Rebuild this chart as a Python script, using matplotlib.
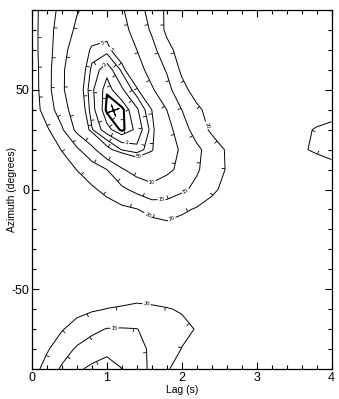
import numpy as np
import matplotlib
matplotlib.use("Agg")
import matplotlib.pyplot as plt
from matplotlib.ticker import MultipleLocator
from matplotlib.collections import LineCollection

# grid of the map
lags = [0.0, 0.2, 0.4, 0.6, 0.8, 1.0, 1.2, 1.4, 1.6, 1.8, 2.0,
        2.2, 2.4, 2.6, 2.8, 3.0, 3.2, 3.4, 3.6, 3.8, 4.0]
azimuths = [-90, -80, -70, -60, -50, -40, -30, -20, -10, 0,
            10, 20, 30, 40, 50, 60, 70, 80, 90]

# energy values, one row per azimuth (from -90 up to 90)
energy = [
    [22.0, 18.2, 14.2, 10.8, 9.0, 8.4, 9.9, 12.8, 16.0, 19.6, 21.6, 22.9, 23.7, 24.5, 24.8, 25.0, 24.9, 24.8, 24.7, 24.6, 24.5],
    [22.0, 20.5, 17.4, 14.3, 12.7, 11.0, 12.5, 13.9, 15.6, 18.0, 20.1, 20.8, 21.5, 21.8, 22.2, 22.5, 22.6, 22.7, 22.8, 22.9, 23.0],
    [22.5, 21.4, 20.3, 18.3, 16.1, 14.8, 14.7, 14.9, 16.2, 17.6, 19.1, 20.2, 20.9, 21.5, 22.0, 22.5, 23.0, 23.1, 23.3, 23.4, 23.5],
    [23.5, 22.8, 22.0, 21.3, 20.6, 19.9, 19.6, 19.3, 19.5, 19.8, 20.3, 20.9, 21.5, 22.2, 22.8, 23.5, 23.6, 23.7, 23.8, 23.9, 24.0],
    [24.5, 24.2, 23.8, 23.5, 23.0, 22.5, 22.1, 21.6, 21.8, 22.2, 22.6, 23.0, 23.4, 23.8, 24.1, 24.5, 24.5, 24.5, 24.5, 24.5, 24.5],
    [25.5, 25.4, 25.2, 25.0, 24.8, 24.6, 24.5, 24.5, 24.6, 24.7, 24.9, 25.0, 25.1, 25.2, 25.2, 25.2, 25.1, 25.0, 24.9, 24.8, 24.7],
    [26.5, 26.2, 25.9, 25.6, 25.3, 25.0, 24.8, 24.6, 24.4, 24.2, 24.3, 24.4, 24.5, 24.6, 24.6, 24.6, 24.5, 24.4, 24.3, 24.2, 24.1],
    [27.0, 26.4, 25.8, 25.2, 24.6, 24.0, 23.5, 23.0, 22.5, 22.0, 22.4, 22.8, 23.1, 23.5, 23.7, 23.8, 24.0, 23.9, 23.8, 23.6, 23.5],
    [27.0, 26.0, 25.0, 24.1, 23.1, 22.1, 21.1, 20.2, 18.4, 17.4, 19.1, 20.5, 21.5, 22.2, 22.6, 23.0, 22.9, 22.8, 22.7, 22.6, 22.5],
    [26.5, 25.1, 23.6, 22.2, 20.7, 18.7, 16.0, 13.6, 11.4, 12.6, 14.1, 16.2, 19.2, 21.1, 22.5, 22.8, 23.0, 22.8, 22.5, 22.3, 22.0],
    [26.0, 24.0, 22.0, 19.9, 17.5, 15.0, 10.5, 7.8, 7.3, 9.0, 11.1, 14.4, 17.5, 20.3, 22.0, 22.5, 23.0, 22.5, 22.0, 21.5, 21.0],
    [25.0, 22.4, 19.8, 15.8, 11.4, 5.6, 3.9, 3.3, 4.8, 7.7, 10.7, 13.9, 17.3, 20.5, 22.5, 22.8, 22.5, 21.5, 20.3, 19.6, 19.0],
    [23.5, 20.7, 15.6, 8.7, 4.1, 2.3, 1.35, 2.2, 4.4, 8.2, 12.6, 17.3, 20.9, 23.0, 23.8, 24.5, 23.5, 22.5, 21.0, 19.6, 19.0],
    [23.0, 17.5, 12.4, 6.9, 3.4, 1.34, 1.3, 2.8, 5.0, 10.0, 15.0, 19.0, 21.8, 23.6, 24.9, 25.3, 25.0, 24.3, 23.5, 22.5, 21.5],
    [22.7, 16.7, 10.7, 6.3, 3.2, 1.55, 2.8, 4.6, 9.4, 13.3, 18.4, 22.1, 24.1, 25.2, 25.8, 26.0, 25.8, 25.6, 25.4, 25.2, 25.0],
    [22.5, 16.8, 10.7, 6.7, 3.7, 2.3, 4.2, 8.0, 11.9, 15.4, 20.9, 23.5, 24.5, 25.5, 25.8, 26.0, 25.8, 25.5, 25.3, 25.0, 24.8],
    [22.0, 17.0, 11.7, 7.3, 4.6, 4.4, 6.7, 10.0, 13.4, 18.4, 22.1, 24.0, 25.0, 25.6, 25.7, 25.8, 25.6, 25.4, 25.2, 24.9, 24.7],
    [22.0, 17.0, 12.5, 9.2, 6.6, 5.8, 8.7, 11.5, 15.7, 21.0, 23.5, 24.4, 25.3, 25.4, 25.5, 25.6, 25.4, 25.2, 25.0, 24.8, 24.6],
    [21.9, 17.4, 13.5, 10.3, 8.6, 7.9, 9.5, 12.8, 17.0, 20.8, 23.0, 24.0, 25.0, 25.2, 25.4, 25.5, 25.4, 25.2, 25.0, 24.8, 24.5],
]

levels = [2, 3, 4, 5, 10, 15, 20]
conf_level = 1.5
best_lag = 1.085
best_az = 40

# where the contour numbers sit
label_spots = [(0.92, 76), (1.03, 70), (0.975, 62.5), (1.27, 24.5), (1.44, 17),
               (1.46, 14), (1.6, 3.5), (1.73, -6), (2.07, -2), (1.55, -12.5),
               (1.86, -14), (2.28, 31.5), (1.53, -57.5), (1.1, -69)]

plt.rcParams['font.family'] = ['Liberation Sans', 'DejaVu Sans']
plt.rcParams['axes.unicode_minus'] = False

fig = plt.figure(figsize=(3.39, 3.99), dpi=100)
ax = fig.add_axes([32 / 339, 30 / 399, 299.5 / 339, 359 / 399])
ax.set_xlim(0, 4)
ax.set_ylim(-90, 90)

X = np.asarray(lags)
Y = np.asarray(azimuths)
Z = np.asarray(energy)

cs = ax.contour(X, Y, Z, levels=levels, colors='k', linewidths=0.7)
cb = ax.contour(X, Y, Z, levels=[conf_level], colors='k', linewidths=1.5)
ax.plot(best_lag, best_az, marker=(4, 2, 20), ms=9, mew=0.7, color='k')

ax.clabel(cs, fmt='%g', fontsize=4, inline=True, inline_spacing=1,
          manual=label_spots)


def zval(x, y):
    x = np.clip(x, X[0], X[-1])
    y = np.clip(y, Y[0], Y[-1])
    i = int(np.clip(np.searchsorted(X, x) - 1, 0, len(X) - 2))
    j = int(np.clip(np.searchsorted(Y, y) - 1, 0, len(Y) - 2))
    tx = (x - X[i]) / (X[i + 1] - X[i])
    ty = (y - Y[j]) / (Y[j + 1] - Y[j])
    return (Z[j, i] * (1 - tx) * (1 - ty) + Z[j, i + 1] * tx * (1 - ty)
            + Z[j + 1, i] * (1 - tx) * ty + Z[j + 1, i + 1] * tx * ty)


def downhill_ticks(cset, step=30, size=3.5):
    """little ticks on the contours pointing to lower values"""
    to_disp = ax.transData
    back = to_disp.inverted()
    segs = []
    for path in cset.get_paths():
        for poly in path.to_polygons(closed_only=False):
            if len(poly) < 2:
                continue
            d = to_disp.transform(poly)
            seglen = np.hypot(*np.diff(d, axis=0).T)
            cum = np.concatenate([[0], np.cumsum(seglen)])
            for s in np.arange(step / 2, cum[-1], step):
                k = int(np.clip(np.searchsorted(cum, s) - 1, 0, len(seglen) - 1))
                if seglen[k] == 0:
                    continue
                f = (s - cum[k]) / seglen[k]
                p = d[k] + f * (d[k + 1] - d[k])
                t = (d[k + 1] - d[k]) / seglen[k]
                n = np.array([-t[1], t[0]])
                a = back.transform([p + 2 * n, p - 2 * n])
                if zval(*a[0]) > zval(*a[1]):
                    n = -n
                segs.append(back.transform([p, p + size * n]))
    ax.add_collection(LineCollection(segs, colors='k', linewidths=0.6))


downhill_ticks(cs)
downhill_ticks(cb)

ax.set_xticks([0, 1, 2, 3, 4])
ax.set_yticks([-50, 0, 50])
ax.xaxis.set_minor_locator(MultipleLocator(0.2))
ax.yaxis.set_minor_locator(MultipleLocator(10))
ax.tick_params(which='both', direction='in', top=True, right=True,
               width=0.8, labelsize=9, pad=2)
ax.tick_params(which='major', length=5)
ax.tick_params(which='minor', length=3)
for sp in ax.spines.values():
    sp.set_linewidth(0.9)

ax.set_xlabel('Lag (s)', fontsize=7.5, labelpad=1)
ax.set_ylabel('Azimuth (degrees)', fontsize=7.5)
ax.yaxis.set_label_coords(-0.05, 0.5)

fig.savefig('out.png', dpi=100)
